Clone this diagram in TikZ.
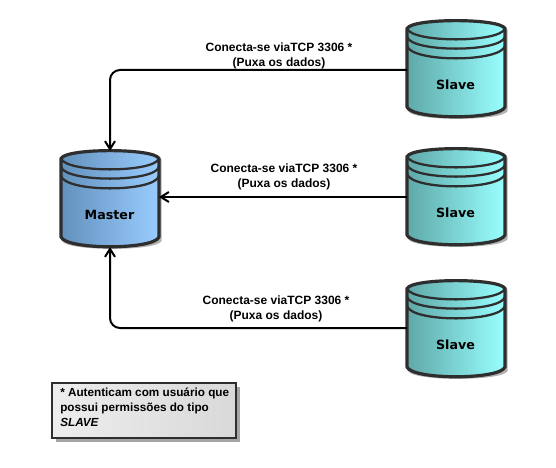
\documentclass[tikz,border=0pt]{standalone}
\usepackage{fontspec}
\setmainfont{Liberation Sans}
\newfontfamily\cylfont{DejaVu Sans}
\definecolor{edge}{HTML}{2E2E2E}
\definecolor{mleft}{HTML}{6391BD}
\definecolor{mright}{HTML}{99CCFF}
\definecolor{sleft}{HTML}{5FA8A8}
\definecolor{sright}{HTML}{99FFFF}
\tikzset{
  x=0.75pt,y=-0.75pt,
  anchorbox/.style={minimum width=73.5pt,minimum height=72pt,inner sep=0pt,outer sep=0pt},
  cyllabel/.style={font=\cylfont\bfseries\fontsize{9.5}{11}\selectfont,inner sep=0pt},
  linklabel/.style={font=\bfseries\fontsize{9}{11.2}\selectfont,align=center,inner sep=0pt},
  link/.style={draw=black,line width=1.5pt,rounded corners=7.5pt,-{Straight Barb[length=6pt,width=7.5pt,line width=1.5pt]}},
  rim/.style={draw=edge,line width=1.7pt},
  outline/.style={draw=edge,line width=2.4pt,line join=round},
}
\usetikzlibrary{arrows.meta}
% name, left x, top y, label, left colour, right colour
\newcommand{\cylinderpic}[6]{%
  \begin{scope}[shift={(#2,#3)}]
    \path[fill=black!30] (1,9) .. controls (1,-4) and (100.5,-4) .. (100.5,9) -- (100.5,90)
       .. controls (96,100.5) and (6,100.5) .. (1,90) -- cycle;
    \path[outline,left color=#5,right color=#6,shading angle=90]
      (0,7.5) .. controls (5,-3) and (93,-3) .. (98,7.5) -- (98,86)
      .. controls (93,99) and (5,99) .. (0,86) -- cycle;
    \draw[rim] (0,7.5) .. controls (5,22) and (93,22) .. (98,7.5);
    \draw[rim] (0,16) .. controls (5,31.5) and (93,31.5) .. (98,16);
    \draw[rim] (0,25) .. controls (5,41.5) and (93,41.5) .. (98,25);
  \end{scope}
  \node[anchorbox] (#1) at (#2+49,#3+48) {};
  \node[cyllabel] (#1label) at (#2+48.5,#3+64) {#4};
}
\begin{document}
\begin{tikzpicture}
\useasboundingbox (0,0) rectangle (556,467);
\cylinderpic{master}{61}{151}{Master}{mleft}{mright}
\cylinderpic{slaveA}{407}{21}{Slave}{sleft}{sright}
\cylinderpic{slaveB}{407}{149}{Slave}{sleft}{sright}
\cylinderpic{slaveC}{407}{281}{Slave}{sleft}{sright}

\draw[link] ([yshift=-0.75pt]slaveA.west) -| (master.north);
\draw[link] (slaveB.west) -- (master.east |- slaveB.west);
\draw[link] ([yshift=0.75pt]slaveC.west) -| (master.south);

\node[linklabel] (labA) at (279,56) {Conecta-se viaTCP 3306 *\\(Puxa os dados)};
\node[linklabel] (labB) at (284,177) {Conecta-se viaTCP 3306 *\\(Puxa os dados)};
\node[linklabel] (labC) at (276,309) {Conecta-se viaTCP 3306 *\\(Puxa os dados)};

\path[fill=black!35] (56,387) rectangle (240,442);
\node[draw=edge,line width=1.7pt,left color=white!93!black,right color=black!15,shading angle=90,
      minimum width=138pt,minimum height=41.25pt,inner sep=0pt,anchor=north west] (note) at (51,382) {};
\node[font=\bfseries\fontsize{8.8}{11}\selectfont,align=left,anchor=north west,inner sep=0pt] (notetext) at (60,388)
  {* Autenticam com usuário que\\possui permissões do tipo\\\textit{SLAVE}};
\end{tikzpicture}
\end{document}
